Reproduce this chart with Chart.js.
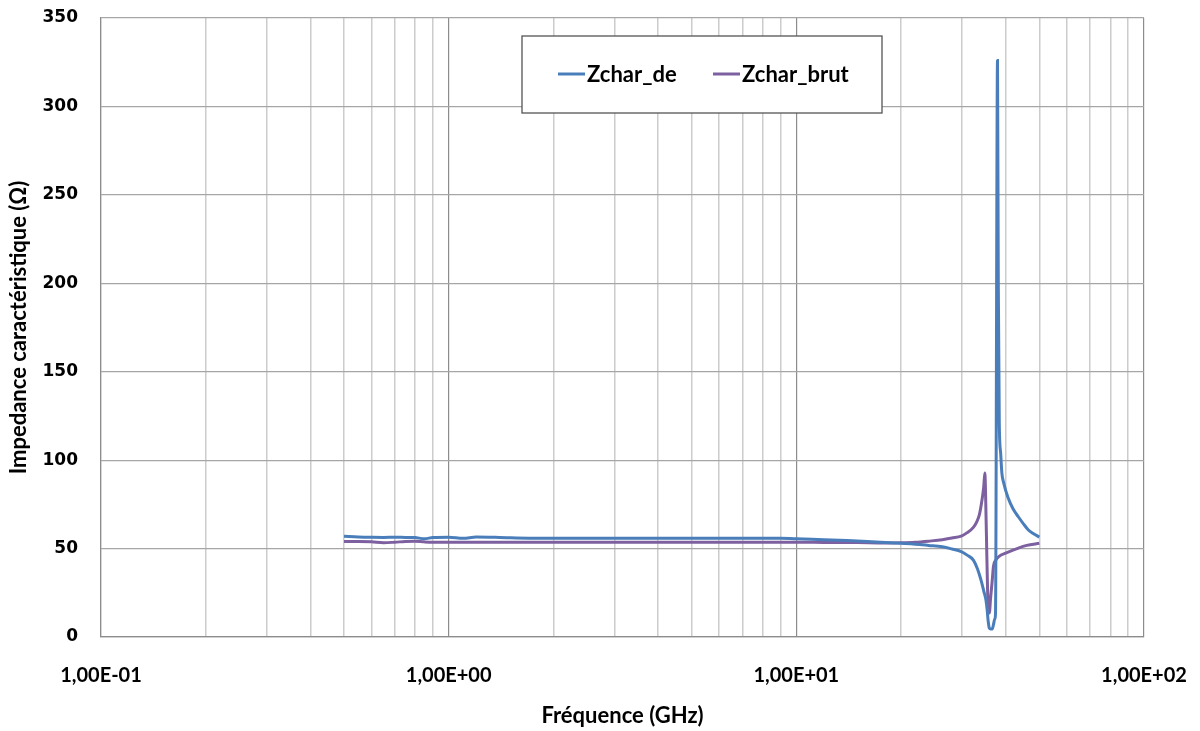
<!DOCTYPE html>
<html>
<head>
<meta charset="utf-8">
<script src="https://cdn.jsdelivr.net/npm/chart.js@4"></script>
<style>
  body { margin: 0; background: #fff; }
  #wrap { width: 1200px; height: 731px; }
</style>
</head>
<body>
<div id="wrap"><canvas id="myChart" width="1200" height="731"></canvas></div>
<script>
// frequencies in GHz, impedance in ohms
const freqDe = [0.5, 0.55, 0.6, 0.65, 0.7, 0.75, 0.8, 0.85, 0.9, 1.0, 1.1, 1.2, 1.4, 1.7, 2, 3, 4, 5, 6, 7, 8, 9,
    10, 12, 14, 16, 18, 20, 22, 24, 26.3, 28, 29.8, 31, 32.3, 33.2, 34.0, 34.6, 35.1, 35.4, 35.6, 35.9, 36.2, 36.6,
    36.9, 37.2, 37.4, 37.9, 38.1, 38.35, 38.7, 39.0, 39.5, 40.6, 42, 43.5, 45, 46.5, 48, 50];
const zcharDe = [57, 56.6, 56.4, 56.3, 56.4, 56.3, 56.2, 55.6, 56.2, 56.4, 55.8, 56.5, 56.3, 55.9, 55.9, 55.9, 55.9, 55.9, 55.9, 55.9, 55.9, 55.9,
    55.5, 55, 54.5, 54, 53.5, 53, 52.5, 51.8, 51, 49.8, 48.3, 46.3, 43.5, 38.5, 32, 26, 21, 15, 9.6, 5, 4.5, 4.5,
    7, 10, 13, 326, 200, 121, 104, 93, 87, 79, 72.5, 68, 64, 60.5, 58.5, 56.5];

const freqBrut = [0.5, 0.55, 0.6, 0.65, 0.7, 0.75, 0.8, 0.85, 0.9, 1.0, 1.5, 2, 3, 5, 7, 10, 12, 15, 18,
    20, 22, 24, 26.3, 28, 29.8, 31, 32.3, 33, 33.6, 34.2, 34.6, 34.84, 35.2, 35.5, 35.9, 36.2, 36.6, 36.9, 37.5,
    38.3, 40, 43.5, 46, 50];
const zcharBrut = [54, 54, 53.8, 53.3, 53.6, 54, 54.2, 53.8, 53.6, 53.6, 53.6, 53.6, 53.6, 53.6, 53.6, 53.6, 53.5, 53.4, 53.2,
    53.3, 53.6, 54.2, 55, 56, 57, 59, 62, 65, 69, 77.5, 85, 92.7, 60, 25, 13.5, 22, 32, 40, 43.5,
    45.6, 47.4, 50.3, 51.8, 53];

const seriesNames = ['Zchar_de', 'Zchar_brut'];
const seriesColors = ['#4a7ebb', '#7d60a0'];

const xGridValues = [0.1, 0.2, 0.3, 0.4, 0.5, 0.6, 0.7, 0.8, 0.9, 1, 2, 3, 4, 5, 6, 7, 8, 9,
    10, 20, 30, 40, 50, 60, 70, 80, 90, 100];
const xTickValues = [0.1, 1, 10, 100];
const xTickLabels = ['1,00E-01', '1,00E+00', '1,00E+01', '1,00E+02'];
const yMin = 0, yMax = 350, yStep = 50;

const boxLegend = {
    id: 'boxLegend',
    afterDraw(chart) {
        const c = chart.ctx;
        c.save();
        c.fillStyle = '#fff';
        c.fillRect(522, 36, 360, 77);
        c.strokeStyle = '#555';
        c.lineWidth = 1.3;
        c.strokeRect(522, 36, 360, 77);
        const starts = [558, 713];
        c.font = 'bold 22px Lato';
        c.textBaseline = 'middle';
        chart.data.datasets.forEach((ds, i) => {
            c.strokeStyle = ds.borderColor;
            c.lineWidth = 3;
            c.beginPath();
            c.moveTo(starts[i], 74);
            c.lineTo(starts[i] + 27, 74);
            c.stroke();
            c.fillStyle = '#000';
            c.fillText(ds.label, starts[i] + 29, 75);
        });
        c.restore();
    }
};

const ctx = document.getElementById('myChart').getContext('2d');
const myChart = new Chart(ctx, {
    type: 'line',
    data: {
        datasets: [{
            label: seriesNames[0],
            data: freqDe.map((f, i) => ({x: f, y: zcharDe[i]})),
            borderColor: seriesColors[0],
            borderWidth: 3,
            pointRadius: 0,
            cubicInterpolationMode: 'monotone',
            fill: false
        }, {
            label: seriesNames[1],
            data: freqBrut.map((f, i) => ({x: f, y: zcharBrut[i]})),
            borderColor: seriesColors[1],
            borderWidth: 3,
            pointRadius: 0,
            cubicInterpolationMode: 'monotone',
            fill: false
        }]
    },
    options: {
        responsive: false,
        animation: false,
        layout: {padding: {top: 18, right: 56, left: 0, bottom: 0}},
        plugins: {
            legend: {display: false},
            tooltip: {enabled: false}
        },
        scales: {
            x: {
                type: 'logarithmic',
                min: 0.1,
                max: 100,
                afterBuildTicks(scale) {
                    scale.ticks = xGridValues.map(v => ({value: v}));
                },
                afterFit(scale) { scale.height = 94; },
                ticks: {
                    autoSkip: false,
                    maxRotation: 0,
                    padding: 0,
                    color: '#000',
                    font: {family: 'Lato', weight: 'bold', size: 20},
                    callback(value) {
                        const k = xTickValues.findIndex(v => Math.abs(v - value) < 1e-9);
                        return k >= 0 ? xTickLabels[k] : '';
                    }
                },
                grid: {
                    drawTicks: true,
                    tickLength: 27,
                    tickColor: 'rgba(0,0,0,0)',
                    color(c) {
                        if (!c.tick) return '#cccccc';
                        return xTickValues.some(v => Math.abs(v - c.tick.value) < 1e-9) ? '#8c8c8c' : '#cccccc';
                    },
                    lineWidth(c) {
                        if (!c.tick) return 1.5;
                        return xTickValues.some(v => Math.abs(v - c.tick.value) < 1e-9) ? 1.2 : 1.5;
                    }
                },
                border: {color: '#8c8c8c', width: 1.2},
                title: {
                    display: true,
                    text: 'Fréquence (GHz)',
                    color: '#000',
                    font: {family: 'Lato', weight: 'bold', size: 22},
                    padding: {top: 0, bottom: 2}
                }
            },
            y: {
                min: yMin,
                max: yMax,
                afterFit(scale) { scale.width = 101; },
                ticks: {
                    stepSize: yStep,
                    padding: 0,
                    color: '#000',
                    font: {family: 'DejaVu Sans', weight: 'bold', size: 17}
                },
                grid: {drawTicks: true, tickLength: 23, tickColor: 'rgba(0,0,0,0)', color: '#a6a6a6', lineWidth: 1.2},
                border: {color: '#8c8c8c', width: 1.2},
                title: {
                    display: true,
                    text: 'Impedance caractéristique (Ω)',
                    color: '#000',
                    font: {family: 'Lato', weight: 'bold', size: 22},
                    padding: {top: 6, bottom: 0}
                }
            }
        }
    },
    plugins: [boxLegend]
});
</script>
</body>
</html>
